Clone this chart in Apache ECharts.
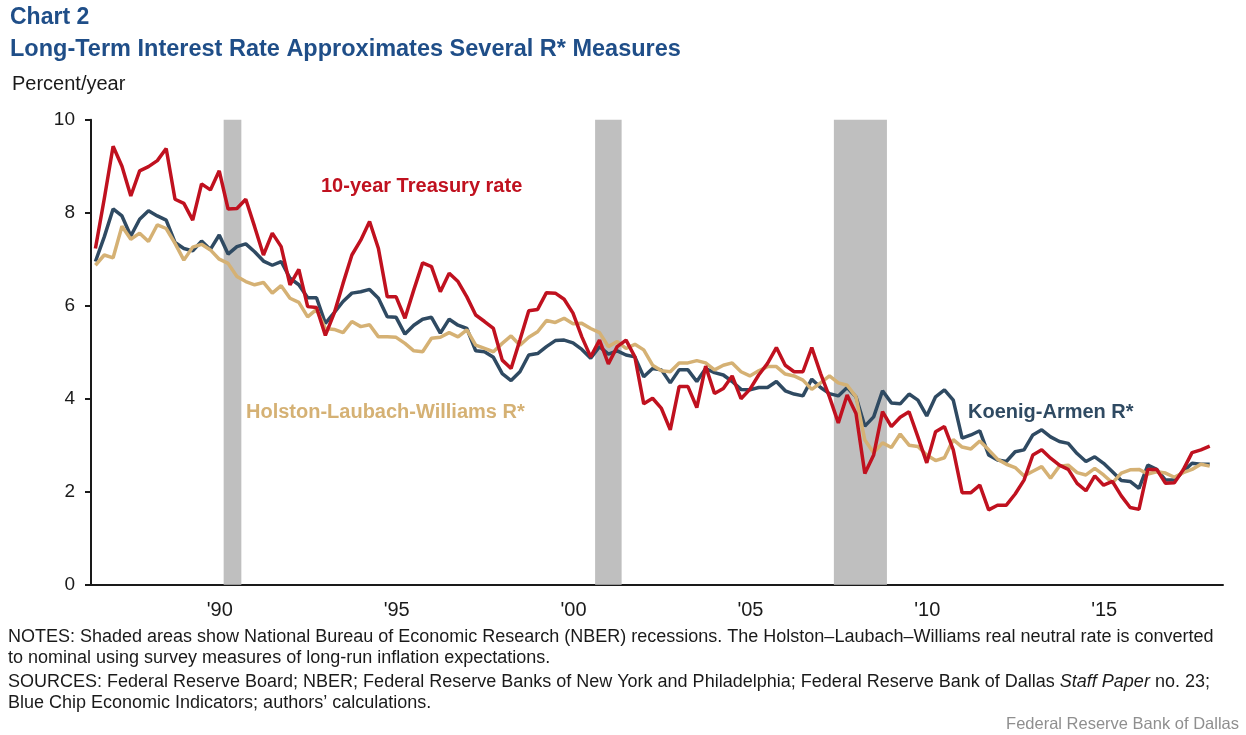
<!DOCTYPE html>
<html>
<head>
<meta charset="utf-8">
<title>Chart 2</title>
<script src="https://cdn.jsdelivr.net/npm/echarts@6/dist/echarts.min.js"></script>
<style>
  html, body { margin: 0; padding: 0; background: #fff; }
  #chart { width: 1246px; height: 735px; }
</style>
</head>
<body>
<div id="chart"></div>
<script>
// quarterly data, 1987Q1 .. 2018Q3
const firstYear = 1987;
const lastYear = 2018;
const labelYears = [1990, 1995, 2000, 2005, 2010, 2015];

const treasury10y = [
  7.23, 8.3, 9.43, 9.0, 8.36, 8.9, 8.99, 9.12, 9.38, 8.29, 8.2, 7.84,
  8.62, 8.49, 8.9, 8.08, 8.09, 8.29, 7.7, 7.09, 7.56, 7.27, 6.45, 6.78,
  5.98, 5.96, 5.36, 5.84, 6.48, 7.09, 7.41, 7.81, 7.23, 6.19, 6.19, 5.73,
  6.34, 6.92, 6.84, 6.3, 6.7, 6.52, 6.19, 5.8, 5.66, 5.51, 4.83, 4.65,
  5.26, 5.89, 5.92, 6.28, 6.27, 6.14, 5.84, 5.33, 4.9, 5.26, 4.75, 5.12,
  5.26, 4.9, 3.89, 4.01, 3.79, 3.33, 4.26, 4.26, 3.81, 4.7, 4.11, 4.22,
  4.49, 4.0, 4.2, 4.51, 4.76, 5.1, 4.72, 4.58, 4.58, 5.1, 4.54, 4.04,
  3.48, 4.08, 3.68, 2.39, 2.79, 3.72, 3.4, 3.6, 3.72, 3.18, 2.62, 3.29,
  3.4, 2.9, 1.98, 1.98, 2.14, 1.61, 1.71, 1.71, 1.95, 2.25, 2.79, 2.9,
  2.72, 2.57, 2.48, 2.18, 2.02, 2.34, 2.14, 2.22, 1.91, 1.66, 1.62, 2.48,
  2.48, 2.18, 2.19, 2.47, 2.84, 2.9, 2.98
];

const koenigArmen = [
  6.95, 7.48, 8.08, 7.93, 7.5, 7.86, 8.04, 7.93, 7.84, 7.36, 7.23, 7.18,
  7.39, 7.21, 7.52, 7.11, 7.27, 7.33, 7.16, 6.96, 6.87, 6.95, 6.59, 6.45,
  6.17, 6.17, 5.62, 5.85, 6.09, 6.27, 6.3, 6.35, 6.16, 5.76, 5.75, 5.39,
  5.58, 5.71, 5.75, 5.41, 5.71, 5.58, 5.51, 5.03, 5.01, 4.89, 4.54, 4.39,
  4.58, 4.94, 4.97, 5.12, 5.25, 5.26, 5.2, 5.06, 4.87, 5.12, 4.96, 5.03,
  4.94, 4.9, 4.47, 4.65, 4.62, 4.34, 4.62, 4.62, 4.37, 4.65, 4.56, 4.51,
  4.37, 4.2, 4.19, 4.24, 4.24, 4.37, 4.17, 4.1, 4.06, 4.42, 4.24, 4.11,
  4.06, 4.24, 4.04, 3.41, 3.61, 4.17, 3.91, 3.89, 4.1, 3.97, 3.63, 4.04,
  4.19, 3.97, 3.15, 3.22, 3.31, 2.79, 2.68, 2.65, 2.86, 2.9, 3.22, 3.33,
  3.18, 3.08, 3.04, 2.82, 2.65, 2.75, 2.61, 2.43, 2.24, 2.22, 2.07, 2.57,
  2.48, 2.25, 2.25, 2.43, 2.61, 2.59, 2.59
];

const holstonLaubachWilliams = [
  6.87, 7.09, 7.03, 7.71, 7.43, 7.56, 7.38, 7.74, 7.66, 7.34, 6.98, 7.26,
  7.32, 7.2, 7.0, 6.91, 6.63, 6.52, 6.45, 6.5, 6.27, 6.43, 6.16, 6.07,
  5.76, 5.92, 5.51, 5.49, 5.42, 5.66, 5.55, 5.59, 5.33, 5.33, 5.32, 5.19,
  5.03, 5.01, 5.3, 5.32, 5.42, 5.33, 5.48, 5.15, 5.08, 5.01, 5.19, 5.35,
  5.15, 5.32, 5.44, 5.68, 5.64, 5.73, 5.61, 5.62, 5.51, 5.42, 5.12, 5.23,
  5.08, 5.17, 5.05, 4.72, 4.6, 4.58, 4.77, 4.77, 4.82, 4.77, 4.62, 4.72,
  4.77, 4.58, 4.49, 4.6, 4.69, 4.69, 4.53, 4.49, 4.4, 4.2, 4.34, 4.49,
  4.34, 4.29, 4.04, 3.11, 2.84, 3.05, 2.95, 3.24, 3.0, 2.97, 2.79, 2.67,
  2.73, 3.12, 2.96, 2.92, 3.09, 2.9, 2.7, 2.59, 2.52, 2.34, 2.44, 2.54,
  2.29, 2.55, 2.57, 2.41, 2.36, 2.5, 2.36, 2.19, 2.4, 2.47, 2.48, 2.38,
  2.43, 2.4, 2.31, 2.41, 2.48, 2.59, 2.55
];

// NBER recessions, first and last quarter shaded
const recessions = [
  ['1990Q4', '1991Q1'],
  ['2001Q2', '2001Q4'],
  ['2008Q1', '2009Q2']
];

const FONT = '"Liberation Sans", Arial, sans-serif';
const INK = '#1a1a1a';

function quarterStart(q) {
  return +q.slice(0, 4) + (+q.slice(5) - 1) / 4;
}

// each quarter is plotted at its midpoint
function toPoints(values) {
  return values.map(function(v, i) {
    return [firstYear + (i + 0.5) / 4, v];
  });
}

let categoryYears = [];
for(let y = firstYear; y <= lastYear; y++) {
  categoryYears.push(String(y));
}

function note(text, top) {
  return {
    type: 'text',
    left: 8,
    top: top,
    style: {
      text: text,
      font: '18px ' + FONT,
      fill: INK,
      rich: {
        i: { fontStyle: 'italic', fontSize: 18, fontFamily: FONT, fill: INK },
      },
    },
  };
}

const chart = echarts.init(document.getElementById('chart'));

chart.setOption({
  animation: false,
  backgroundColor: '#fff',
  grid: {
    left: 91,
    right: 23,
    top: 119.7,
    bottom: 150.3,
    containLabel: false,
  },
  xAxis: [
    {
      type: 'category',
      data: categoryYears,
      boundaryGap: true,
      axisLine: { lineStyle: { color: INK, width: 2 } },
      axisTick: { interval: 0, length: 6, lineStyle: { color: INK, width: 2 } },
      axisLabel: {
        interval: 0,
        margin: 16,
        fontSize: 20,
        fontFamily: FONT,
        color: INK,
        padding: [0, 0, 0, 10],
        formatter: function(val) {
          return labelYears.indexOf(+val) >= 0 ? "'" + val.slice(2) : '';
        },
      },
      splitLine: { show: false },
    },
    {
      type: 'value',
      min: firstYear,
      max: lastYear + 1,
      show: false,
    },
  ],
  yAxis: {
    type: 'value',
    min: 0,
    max: 10,
    interval: 2,
    axisLine: { show: true, lineStyle: { color: INK, width: 2 } },
    axisTick: { show: true, length: 6, lineStyle: { color: INK, width: 2 } },
    axisLabel: { margin: 16, fontSize: 19, fontFamily: FONT, color: INK },
    splitLine: { show: false },
  },
  series: [
    {
      name: 'recessions',
      type: 'line',
      xAxisIndex: 1,
      data: [],
      z: 1,
      silent: true,
      markArea: {
        silent: true,
        itemStyle: { color: '#bfbfbf', opacity: 1 },
        data: recessions.map(function(r) {
          return [{ xAxis: quarterStart(r[0]) }, { xAxis: quarterStart(r[1]) + 0.25 }];
        }),
      },
    },
    {
      name: 'Koenig-Armen R*',
      type: 'line',
      xAxisIndex: 1,
      data: toPoints(koenigArmen),
      showSymbol: false,
      z: 3,
      lineStyle: { color: '#2f4a62', width: 3.5 },
    },
    {
      name: 'Holston-Laubach-Williams R*',
      type: 'line',
      xAxisIndex: 1,
      data: toPoints(holstonLaubachWilliams),
      showSymbol: false,
      z: 4,
      lineStyle: { color: '#d5b174', width: 3.5 },
    },
    {
      name: '10-year Treasury rate',
      type: 'line',
      xAxisIndex: 1,
      data: toPoints(treasury10y),
      showSymbol: false,
      z: 5,
      lineStyle: { color: '#c0111f', width: 3.5 },
    },
  ],
  graphic: [
    { type: 'text', left: 10, top: 6, style: { text: 'Chart 2', font: 'bold 23px ' + FONT, fill: '#1f4e88' } },
    { type: 'text', left: 10, top: 38, style: { text: 'Long-Term Interest Rate Approximates Several R* Measures', font: 'bold 23.5px ' + FONT, fill: '#1f4e88' } },
    { type: 'text', left: 12, top: 74, style: { text: 'Percent/year', font: '20px ' + FONT, fill: INK } },
    { type: 'text', left: 321, top: 176, style: { text: '10-year Treasury rate', font: 'bold 20px ' + FONT, fill: '#c0111f' } },
    { type: 'text', left: 246, top: 402, style: { text: 'Holston-Laubach-Williams R*', font: 'bold 20px ' + FONT, fill: '#d5b174' } },
    { type: 'text', left: 968, top: 402, style: { text: 'Koenig-Armen R*', font: 'bold 20px ' + FONT, fill: '#2f4a62' } },
    note('NOTES: Shaded areas show National Bureau of Economic Research (NBER) recessions. The Holston\u2013Laubach\u2013Williams real neutral rate is converted', 628),
    note('to nominal using survey measures of long-run inflation expectations.', 649),
    note('SOURCES: Federal Reserve Board; NBER; Federal Reserve Banks of New York and Philadelphia; Federal Reserve Bank of Dallas {i|Staff Paper} no. 23;', 673),
    note('Blue Chip Economic Indicators; authors\u2019 calculations.', 694),
    { type: 'text', right: 7, top: 716, style: { text: 'Federal Reserve Bank of Dallas', font: '16.5px ' + FONT, fill: '#8f8f8f' } },
  ],
});
</script>
</body>
</html>
